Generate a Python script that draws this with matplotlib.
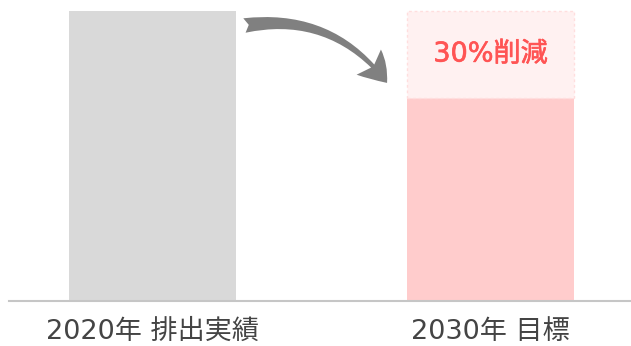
import matplotlib
matplotlib.use("Agg")
import matplotlib.pyplot as plt
import matplotlib.patheffects as pe
from matplotlib.patches import FancyArrowPatch

plt.rcParams['font.family'] = ['DejaVu Sans', 'Noto Sans CJK JP']

# Emission index: 2020 actual vs 2030 target
categories = ["2020年 排出実績", "2030年 目標"]
actual_2020 = 100
target_2030 = 70
reduction_label = "30%削減"

fig = plt.figure(figsize=(6.31, 3.46), dpi=100)
ax = fig.add_axes([9 / 631, 45 / 346, 622 / 631, 301 / 346])

x = [0, 1]
bar_w = 0.494

# 2020 bar (grey)
ax.bar(x[0], actual_2020, width=bar_w, color="#d9d9d9", linewidth=0)
# 2030 target bar (solid pink) + reduction band (light pink, dashed edge)
ax.bar(x[1], target_2030, width=bar_w, color="#ffcccc", linewidth=0)
ax.bar(x[1], actual_2020 - target_2030, bottom=target_2030, width=bar_w,
       facecolor="#fff1f1", edgecolor="#ffdede", linewidth=1.0, linestyle=(0, (2, 2)))

red = "#ff5454"
ax.text(x[1], (actual_2020 + target_2030) / 2, reduction_label, ha="center", va="center",
        fontsize=19.5, color=red, fontweight="normal",
        path_effects=[pe.withStroke(linewidth=0.45, foreground=red)])

# curved arrow from the 2020 bar toward the 2030 target
arrow = FancyArrowPatch((0.272, 95.0), (0.694, 75.2),
                        arrowstyle="fancy,head_length=0.95,head_width=1.2,tail_width=0.5",
                        connectionstyle="arc3,rad=-0.3",
                        mutation_scale=21, color="#808080", linewidth=0,
                        shrinkA=0, shrinkB=0)
ax.add_patch(arrow)

ax.set_xlim(-0.4246, 1.4157)
ax.set_ylim(0, 100 * 301 / 290)
ax.set_xticks(x)
ax.set_xticklabels(categories, fontsize=19.5, color="#444444")
ax.tick_params(axis="x", length=0, pad=13)
ax.set_yticks([])
for side in ("top", "left", "right"):
    ax.spines[side].set_visible(False)
ax.spines["bottom"].set_color("#c6c6c6")
ax.spines["bottom"].set_linewidth(1.5)

fig.savefig("out.png", dpi=100)
